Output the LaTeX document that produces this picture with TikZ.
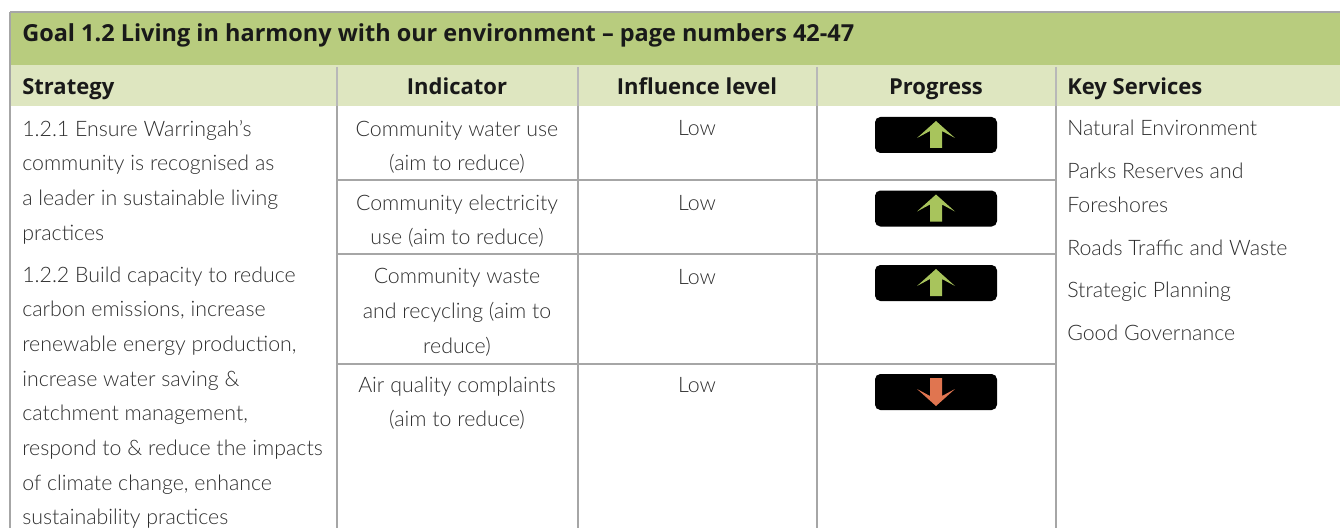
\documentclass[tikz,border=0pt]{standalone}
\usepackage{fontspec}
\setmainfont{Lato Light}
\newfontfamily\headfont{Open Sans}
\definecolor{titlegreen}{HTML}{B8CC7E}
\definecolor{headgreen}{HTML}{DEE6C0}
\definecolor{rulegray}{HTML}{A6A6A6}
\definecolor{txtgray}{HTML}{2E2E2E}
\definecolor{upgreen}{HTML}{A8C45C}
\definecolor{downred}{HTML}{E07550}
\tikzset{
  body/.style={font=\fontsize{16}{26}\selectfont, text=txtgray, inner sep=0pt},
  head/.style={font=\headfont\bfseries\fontsize{16.5}{20}\selectfont, text=black!90, inner sep=0pt},
  rule/.style={draw=rulegray, line width=1.5pt},
  badge/.style={fill=black, rounded corners=4pt, minimum width=91.5pt, minimum height=27pt, inner sep=0pt},
  uparrow/.pic={\fill[upgreen] (0,-14) -- (19,3) -- (6,-4) -- (6,13) -- (-6,13) -- (-6,-4) -- (-19,3) -- cycle;},
  downarrow/.pic={\fill[downred] (0,14) -- (19,-3) -- (6,4) -- (6,-14) -- (-6,-14) -- (-6,4) -- (-19,-3) -- cycle;}
}
\begin{document}
\begin{tikzpicture}[x=0.75pt, y=-0.75pt]
  \useasboundingbox (0,0) rectangle (1340,528);
  % bands
  \fill[titlegreen] (10,12) rectangle (1340,65);
  \fill[headgreen] (10,65) rectangle (1340,106);
  \draw[rule] (10,12) -- (1340,12);
  \draw[rule] (10,12) -- (10,528);
  % column rules
  \foreach \x in {337,578,817,1056} {
    \draw[rule, line width=2.2pt, draw=rulegray!80] (\x,67) -- (\x,106);
    \draw[rule] (\x,106) -- (\x,528);
  }
  % row rules
  \begin{scope}[rule, line width=1.2pt]
    \draw (337,180) -- (1056,180);
    \draw (337,254) -- (1056,254);
    \draw (337,364) -- (1056,364);
  \end{scope}
  % headings (multi-line nodes sit on their last baseline)
  \node[head, anchor=base west, font=\headfont\bfseries\fontsize{17.6}{20}\selectfont] (title) at (22,42) {Goal 1.2 Living in harmony with our environment – page numbers 42-47};
  \node[head, anchor=base west] (hstrat) at (22,95) {Strategy};
  \node[head, anchor=base] (hind) at (457,95) {Indicator};
  \node[head, anchor=base] (hinf) at (697,95) {Influence level};
  \node[head, anchor=base] (hprog) at (936,95) {Progress};
  \node[head, anchor=base west] (hkey) at (1067,95) {Key Services};
  % strategy
  \node[body, anchor=base west, align=left] (s1) at (22,240) {1.2.1 Ensure Warringah’s\\community is recognised as\\a leader in sustainable living\\practices};
  \node[body, anchor=base west, align=left] (s2) at (22,524.7) {1.2.2 Build capacity to reduce\\carbon emissions, increase\\renewable energy production,\\increase water saving \&\\catchment management,\\respond to \& reduce the impacts\\of climate change, enhance\\sustainability practices};
  % indicators
  \node[body, anchor=base, align=center] (i1) at (457,170.7) {Community water use\\(aim to reduce)};
  \node[body, anchor=base, align=center] (i2) at (457,244.7) {Community electricity\\use (aim to reduce)};
  \node[body, anchor=base, align=center] (i3) at (457,353.3) {Community waste\\and recycling (aim to\\reduce)};
  \node[body, anchor=base, align=center] (i4) at (457,426.7) {Air quality complaints\\(aim to reduce)};
  % influence
  \node[body, anchor=base] (l1) at (697,136) {Low};
  \node[body, anchor=base] (l2) at (697,210) {Low};
  \node[body, anchor=base] (l3) at (697,284) {Low};
  \node[body, anchor=base] (l4) at (697,392) {Low};
  % progress
  \node[badge] (p1) at (936,135) {};
  \node[badge] (p2) at (936,208.5) {};
  \node[badge] (p3) at (936,283) {};
  \node[badge] (p4) at (936,392) {};
  \pic at (p1) {uparrow};
  \pic at (p2) {uparrow};
  \pic at (p3) {uparrow};
  \pic at (p4) {downarrow};
  % key services
  \node[body, anchor=base west] (k1) at (1067,136) {Natural Environment};
  \node[body, anchor=base west, align=left] (k2) at (1067,212.7) {Parks Reserves and\\Foreshores};
  \node[body, anchor=base west] (k3) at (1067,255) {Roads Traffic and Waste};
  \node[body, anchor=base west] (k4) at (1067,297) {Strategic Planning};
  \node[body, anchor=base west] (k5) at (1067,340) {Good Governance};
\end{tikzpicture}
\end{document}
